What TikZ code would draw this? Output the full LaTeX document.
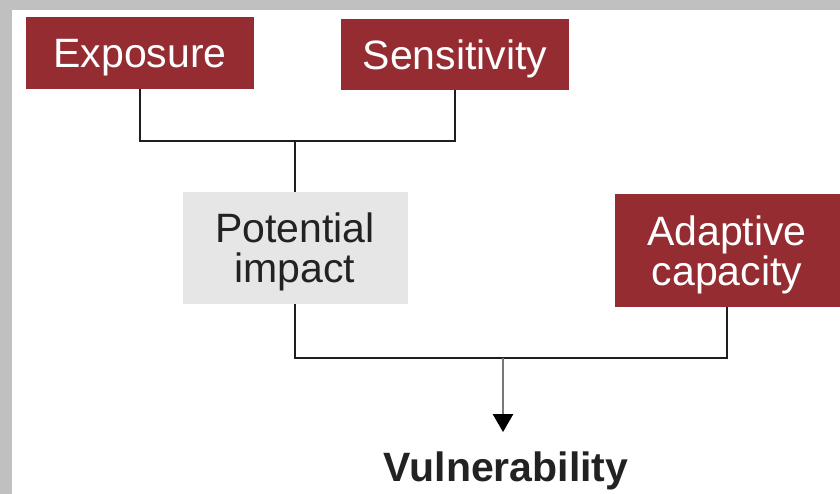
\documentclass[tikz,border=0pt]{standalone}
\usepackage{fontspec}
\setmainfont{Liberation Sans}
\usetikzlibrary{arrows.meta}
\definecolor{boxred}{RGB}{148,44,50}
\definecolor{boxgray}{RGB}{230,230,230}
\definecolor{framegray}{RGB}{192,192,192}
\definecolor{txtdark}{RGB}{34,34,34}
\definecolor{linedark}{RGB}{30,30,30}
\definecolor{arrowgray}{RGB}{120,120,120}
\tikzset{
  redbox/.style={rectangle, fill=boxred, text=white, inner sep=0pt, align=center,
    text depth=0pt, font=\fontsize{41}{40}\selectfont},
  graybox/.style={rectangle, fill=boxgray, text=txtdark, inner sep=0pt, align=center,
    text depth=0pt, font=\fontsize{41}{40}\selectfont},
  conn/.style={draw=linedark, line width=2.4pt},
  arrowconn/.style={draw=arrowgray, line width=2.4pt, -{Triangle[width=20pt,length=18pt,fill=black,color=black]}},
}
\begin{document}
\begin{tikzpicture}[x=1pt,y=-1pt]
\useasboundingbox (0,0) rectangle (840,494);
\fill[framegray] (0,0) rectangle (840,494);
\fill[white] (12,10) rectangle (840,494);
\node[redbox, minimum width=228pt, minimum height=72pt] (exp) at (140,53) {Exposure};
\node[redbox, minimum width=228pt, minimum height=71pt] (sen) at (455,54.5) {Sensitivity};
\node[graybox, minimum width=225pt, minimum height=112pt] (pot) at (295,248) {Potential\\impact};
\node[redbox, minimum width=225pt, minimum height=113pt] (ada) at (727,250.5) {Adaptive\\capacity};
\node[anchor=base, inner sep=0pt, text=txtdark, font=\fontsize{41}{40}\selectfont\bfseries] (vul) at (506,481) {Vulnerability};
\coordinate (bar1) at (295,141);
\coordinate (bar2) at (503,358);
\draw[conn] (exp.south) |- (bar1) -| (sen.south);
\draw[conn] (bar1) -- (pot.north);
\draw[conn] (pot.south) |- (bar2) -| (ada.south);
\draw[arrowconn] (bar2) -- ([yshift=19pt]bar2 |- vul.north);
\end{tikzpicture}
\end{document}
